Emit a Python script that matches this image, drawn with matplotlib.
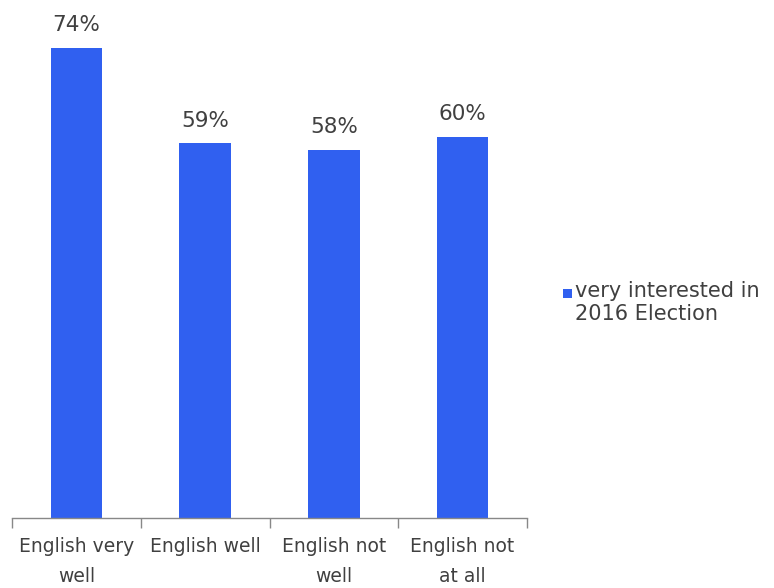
import matplotlib
matplotlib.use("Agg")
import matplotlib.pyplot as plt
from matplotlib.patches import Rectangle

categories = ["English very\nwell", "English well", "English not\nwell", "English not\nat all"]
values = [74, 59, 58, 60]
series_name = "very interested in\n2016 Election"

plt.rcParams['font.family'] = ['DejaVu Sans']
bar_color = '#3060F0'
text_color = '#404040'

fig = plt.figure(figsize=(7.74, 5.88), dpi=100)
ax = fig.add_axes([12/774, 70/588, (527-12)/774, (518-10)/588])

x = range(len(categories))
bars = ax.bar(x, values, width=0.40, color=bar_color)
for xi, v in zip(x, values):
    ax.text(xi, v + 2.0, f"{v}%", ha='center', va='bottom', fontsize=15.5, color=text_color)

ax.set_xlim(-0.5, len(categories) - 0.5)
ax.set_ylim(0, 80)
ax.set_yticks([])
for s in ['top', 'right', 'left']:
    ax.spines[s].set_visible(False)
ax.spines['bottom'].set_color('#888888')
ax.spines['bottom'].set_linewidth(1)

ax.set_xticks(list(x))
ax.set_xticklabels(categories, fontsize=13.5, color=text_color, linespacing=1.7)
ax.tick_params(axis='x', which='major', length=0, pad=14)
ax.set_xticks([i - 0.5 for i in range(len(categories) + 1)], minor=True)
ax.tick_params(axis='x', which='minor', length=7, color='#888888', width=1, direction='out')

# legend: square marker aligned to first text line
fig.patches.append(Rectangle((563/774, 1 - 298/588), 9/774, 9/588, transform=fig.transFigure,
                             facecolor=bar_color, edgecolor='none'))
fig.text(575/774, 1 - 281/588, series_name, ha='left', va='top', fontsize=15,
         color=text_color, linespacing=1.2)

fig.savefig("out.png", dpi=100)
